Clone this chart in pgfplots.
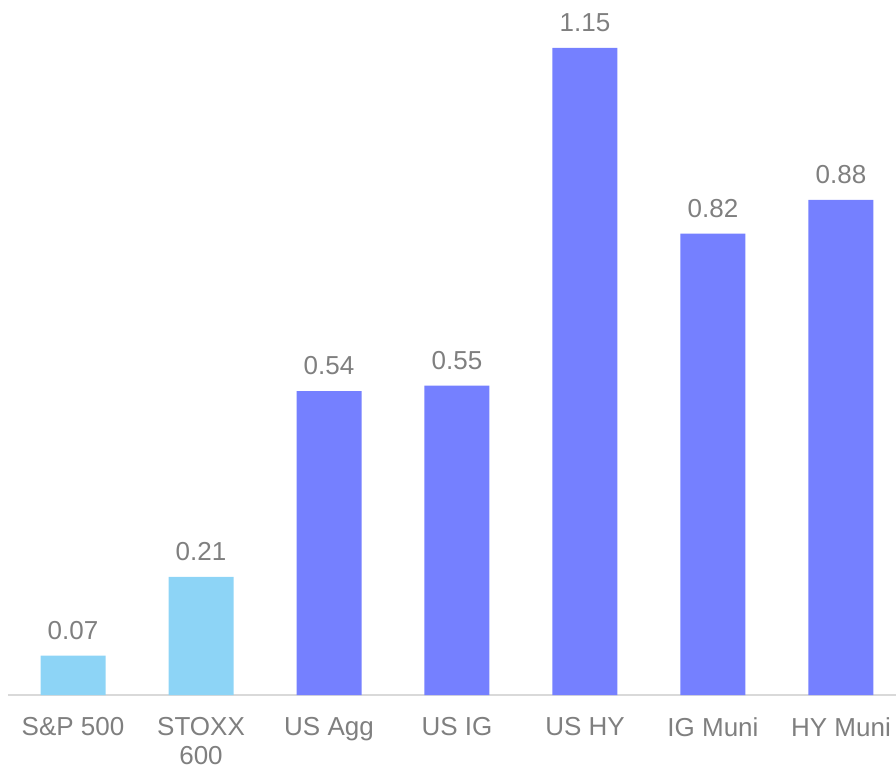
\documentclass[border=0pt]{standalone}
\usepackage{pgfplots}
\pgfplotsset{compat=1.18}
\usepackage{fontspec}
\setmainfont{Liberation Sans}
\definecolor{lblue}{HTML}{8DD4F6}
\definecolor{pblue}{HTML}{7580FF}
\definecolor{txt}{HTML}{7F7F7F}
\definecolor{axl}{HTML}{D9D9D9}
\begin{document}
\begin{tikzpicture}
\path[use as bounding box] (-8pt,-74pt) rectangle (888pt,695pt);
\begin{axis}[
  scale only axis, width=888pt, height=695pt,
  xmin=-0.508, xmax=6.43, ymin=0, ymax=1.2353,
  axis x line*=bottom, axis y line=none,
  x axis line style={axl, line width=1.5pt, -},
  xtick={0,...,6},
  xticklabels={S\&P 500, {STOXX\\600}, US Agg, US IG, US HY, IG Muni, HY Muni},
  xticklabel style={font=\fontsize{26}{29.5}\selectfont, color=txt, align=center, anchor=north, inner sep=0pt, yshift=-22pt},
  major tick length=0pt,
  ytick=\empty,
  ybar, bar width=65pt, bar shift=0pt,
  /pgf/number format/assume math mode=true,
  nodes near coords={\pgfmathprintnumber[fixed,fixed zerofill,precision=2]{\pgfplotspointmeta}},
  every node near coord/.append style={font=\fontsize{26}{30}\selectfont, color=txt, anchor=south, inner sep=0pt, yshift=16pt},
  clip=false,
]
\addplot[fill=lblue, draw=none] coordinates {(0,0.07) (1,0.21)};
\addplot[fill=pblue, draw=none] coordinates {(2,0.54) (3,0.55) (4,1.15) (5,0.82) (6,0.88)};
\end{axis}
\end{tikzpicture}
\end{document}
